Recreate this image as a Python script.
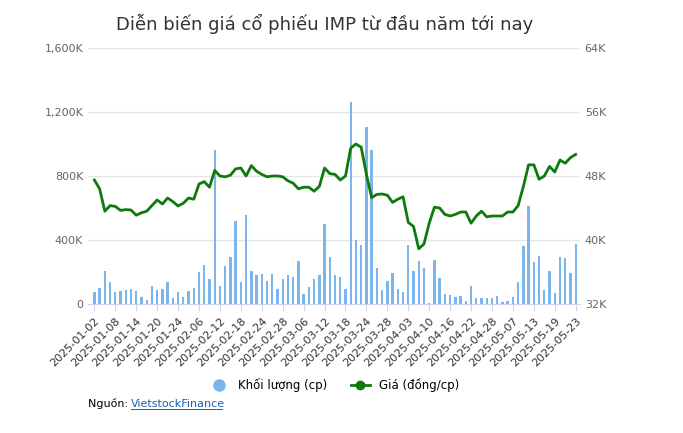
import numpy as np, pandas as pd, matplotlib
matplotlib.use("Agg")
import matplotlib.pyplot as plt, seaborn as sns

holidays = ["2025-01-27","2025-01-28","2025-01-29","2025-01-30","2025-01-31",
            "2025-04-07","2025-04-30","2025-05-01","2025-05-02"]
dates = [d for d in pd.bdate_range("2025-01-02","2025-05-23") if d.strftime("%Y-%m-%d") not in holidays]
labels = [d.strftime("%Y-%m-%d") for d in dates]

volume = [73,102,208,135,73,79,90,96,79,46,27,115,90,96,140,40,73,46,83,102,
          202,246,158,965,115,240,296,521,135,558,208,183,190,146,190,96,158,183,171,271,
          65,108,158,183,502,296,183,171,96,1264,402,371,1108,965,227,90,146,192,96,77,
          371,208,271,227,8,277,165,65,58,46,52,21,115,40,40,40,40,52,15,21,
          46,135,365,615,265,302,90,208,71,296,290,196,377]
price = [47.5,46.4,43.6,44.3,44.2,43.7,43.8,43.75,43.1,43.4,43.6,44.3,45.0,44.5,45.25,44.8,44.25,44.6,45.25,45.1,
         47.0,47.3,46.6,48.7,48.0,47.9,48.1,48.9,49.0,48.0,49.3,48.6,48.2,47.9,48.0,48.0,47.9,47.4,47.1,46.4,
         46.6,46.6,46.1,46.7,49.0,48.3,48.2,47.5,48.0,51.5,52.0,51.6,48.2,45.3,45.7,45.75,45.6,44.7,45.1,45.4,
         42.2,41.7,38.9,39.5,42.1,44.1,44.0,43.2,43.0,43.2,43.5,43.5,42.1,43.0,43.6,42.9,43.0,43.0,43.0,43.5,
         43.5,44.3,46.7,49.4,49.4,47.6,48.0,49.2,48.5,50.0,49.6,50.3,50.7]
n = min(len(dates), len(volume), len(price))
df = pd.DataFrame({"pos": np.arange(n), "vol": volume[:n], "price": price[:n]})

fig = plt.figure(figsize=(6.83,4.33), dpi=100)
ax = fig.add_axes([0.129,0.298,0.72,0.591])
sns.barplot(data=df, x="pos", y="vol", native_scale=True, color="#7cb5ec", width=0.45,
            ax=ax, saturation=1, zorder=2)
ax2 = ax.twinx()
sns.lineplot(data=df, x="pos", y="price", color="#0d7a0d", linewidth=2, ax=ax2, zorder=3)

ax.set_ylim(0,1600); ax2.set_ylim(32,64)
ax.set_yticks([0,400,800,1200,1600]); ax.set_yticklabels(["0","400K","800K","1,200K","1,600K"])
ax2.set_yticks([32,40,48,56,64]); ax2.set_yticklabels(["32K","40K","48K","56K","64K"])
ax.set_xlim(-1.2, n-0.2)
ticks = list(range(0,n,4))
ax.set_xticks(ticks); ax.set_xticklabels([labels[i] for i in ticks], rotation=45, ha="right", rotation_mode="anchor")
ax.grid(axis="y", color="#e6e6e6", linewidth=1, zorder=0); ax.set_axisbelow(True)
for a in (ax, ax2):
    a.set_xlabel(""); a.set_ylabel("")
    for s in a.spines.values(): s.set_visible(False)
    a.tick_params(axis="both", colors="#666666", labelsize=8, length=0)
ax.spines["bottom"].set_visible(True); ax.spines["bottom"].set_color("#ccd6eb")
ax.tick_params(axis="x", length=5, color="#ccd6eb", labelcolor="#333333")

fig.text(0.475,0.93,"Diễn biến giá cổ phiếu IMP từ đầu năm tới nay", ha="center", fontsize=13, color="#333333")
from matplotlib.lines import Line2D
h = [Line2D([],[],marker="o",ls="",color="#7cb5ec",markersize=8),
     Line2D([],[],marker="o",color="#0d7a0d",lw=2,markersize=6)]
fig.legend(h,["Khối lượng (cp)","Giá (đồng/cp)"], loc="center", bbox_to_anchor=(0.49,0.11), ncol=2,
           frameon=False, fontsize=8.5, handlelength=1.6, columnspacing=2)
fig.text(0.129,0.06,"Nguồn: ", fontsize=8, color="#000000")
fig.text(0.192,0.06,"VietstockFinance", fontsize=8, color="#1a5fb4")
fig.add_artist(Line2D([0.192,0.325],[0.055,0.055], color="#1a5fb4", lw=0.7))
fig.savefig("out.png", dpi=100)
